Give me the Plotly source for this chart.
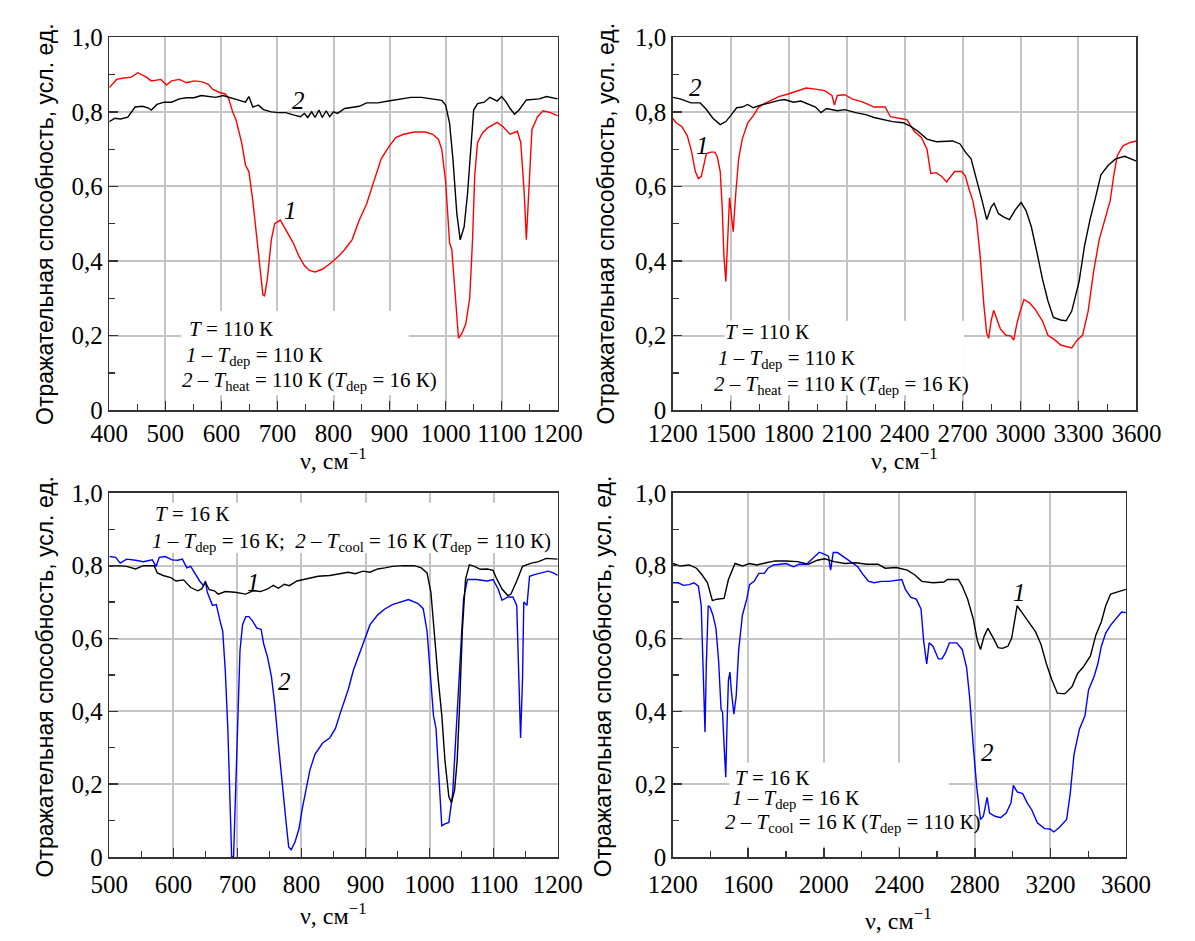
import plotly.graph_objects as go

# ---------------- DATA ----------------
# Top-left: T = 110 K, 400-1200 cm-1
tl1_nu = [400, 413, 426, 439, 451, 466, 475, 492, 502, 511, 525, 538, 551, 564, 577, 584, 597, 607, 613, 620,
          626, 636, 643, 649, 656, 662, 669, 674, 677, 682, 689, 695, 705, 715, 728, 738, 748, 757, 767, 780,
          793, 807, 820, 833, 846, 859, 872, 885, 898, 911, 925, 944, 964, 977, 987, 993, 1000, 1007, 1011, 1016,
          1023, 1029, 1036, 1043, 1048, 1052, 1057, 1066, 1075, 1092, 1102, 1115, 1128, 1134, 1140, 1144, 1149,
          1154, 1164, 1174, 1187, 1200]
tl1_R = [0.865, 0.887, 0.891, 0.893, 0.905, 0.893, 0.883, 0.887, 0.872, 0.883, 0.887, 0.878, 0.883, 0.881, 0.874,
         0.861, 0.852, 0.848, 0.835, 0.80, 0.779, 0.718, 0.657, 0.640, 0.562, 0.475, 0.371, 0.310, 0.306, 0.353,
         0.457, 0.50, 0.51, 0.484, 0.449, 0.414, 0.388, 0.375, 0.371, 0.378, 0.392, 0.41, 0.431, 0.457, 0.51,
         0.553, 0.614, 0.674, 0.705, 0.731, 0.740, 0.746, 0.746, 0.740, 0.727, 0.70, 0.614, 0.449, 0.431, 0.327,
         0.193, 0.206, 0.232, 0.301, 0.457, 0.631, 0.718, 0.744, 0.757, 0.772, 0.761, 0.740, 0.748, 0.718, 0.588,
         0.457, 0.588, 0.753, 0.787, 0.803, 0.798, 0.789]
tl2_nu = [400, 410, 420, 433, 446, 459, 469, 475, 485, 498, 511, 525, 538, 551, 564, 577, 590, 603, 616, 629,
          643, 649, 656, 666, 675, 689, 702, 715, 728, 741, 748, 754, 761, 767, 774, 780, 787, 793, 800, 807,
          820, 833, 846, 859, 879, 898, 918, 938, 957, 977, 993, 1000, 1007, 1013, 1020, 1026, 1033, 1039, 1046,
          1050, 1057, 1069, 1079, 1092, 1100, 1108, 1115, 1123, 1131, 1144, 1167, 1180, 1200]
tl2_R = [0.774, 0.783, 0.781, 0.786, 0.813, 0.815, 0.811, 0.805, 0.820, 0.826, 0.826, 0.835, 0.838, 0.838, 0.844,
         0.841, 0.839, 0.844, 0.839, 0.832, 0.826, 0.841, 0.813, 0.818, 0.806, 0.80, 0.798, 0.798, 0.792, 0.787,
         0.796, 0.785, 0.80, 0.785, 0.805, 0.785, 0.803, 0.787, 0.80, 0.796, 0.809, 0.813, 0.815, 0.824, 0.824,
         0.829, 0.835, 0.839, 0.839, 0.835, 0.831, 0.818, 0.77, 0.674, 0.527, 0.457, 0.492, 0.579, 0.718, 0.805,
         0.822, 0.826, 0.839, 0.829, 0.841, 0.826, 0.809, 0.794, 0.805, 0.832, 0.835, 0.841, 0.835]

# Top-right: T = 110 K, 1200-3600 cm-1
tr1_nu = [1200, 1219, 1247, 1276, 1298, 1317, 1333, 1348, 1361, 1374, 1399, 1418, 1431, 1446, 1456, 1465, 1475,
          1484, 1494, 1503, 1513, 1526, 1541, 1560, 1588, 1617, 1645, 1674, 1711, 1749, 1797, 1844, 1891, 1939,
          1986, 2024, 2037, 2052, 2090, 2128, 2185, 2242, 2299, 2327, 2374, 2412, 2450, 2488, 2516, 2535, 2564,
          2592, 2617, 2640, 2659, 2696, 2715, 2734, 2753, 2772, 2791, 2810, 2825, 2835, 2848, 2861, 2876, 2895,
          2924, 2952, 2965, 2981, 2999, 3018, 3047, 3075, 3113, 3142, 3179, 3208, 3236, 3265, 3293, 3321, 3350,
          3378, 3407, 3435, 3464, 3483, 3501, 3530, 3568, 3600]
tr1_R = [0.783, 0.77, 0.761, 0.735, 0.692, 0.64, 0.621, 0.627, 0.657, 0.688, 0.692, 0.692, 0.679, 0.64, 0.544,
         0.414, 0.345, 0.457, 0.57, 0.527, 0.479, 0.579, 0.674, 0.727, 0.77, 0.79, 0.813, 0.822, 0.831, 0.841,
         0.848, 0.857, 0.864, 0.861, 0.857, 0.844, 0.818, 0.844, 0.846, 0.835, 0.826, 0.813, 0.813, 0.787, 0.783,
         0.779, 0.748, 0.731, 0.70, 0.635, 0.637, 0.627, 0.612, 0.627, 0.64, 0.64, 0.627, 0.592, 0.562, 0.51,
         0.414, 0.284, 0.206, 0.193, 0.24, 0.268, 0.245, 0.219, 0.201, 0.199, 0.188, 0.232, 0.266, 0.297, 0.288,
         0.271, 0.24, 0.201, 0.188, 0.175, 0.171, 0.167, 0.188, 0.201, 0.266, 0.371, 0.457, 0.51, 0.562, 0.631,
         0.683, 0.709, 0.718, 0.722]
tr2_nu = [1200, 1238, 1295, 1342, 1370, 1408, 1446, 1475, 1503, 1531, 1560, 1588, 1617, 1655, 1702, 1749, 1778,
          1825, 1863, 1901, 1939, 1967, 1996, 2052, 2090, 2147, 2204, 2242, 2299, 2337, 2393, 2431, 2469, 2516,
          2564, 2621, 2649, 2687, 2715, 2744, 2772, 2801, 2825, 2848, 2863, 2886, 2914, 2943, 2971, 3003, 3028,
          3056, 3085, 3113, 3142, 3170, 3208, 3236, 3265, 3303, 3331, 3359, 3388, 3416, 3454, 3492, 3539, 3577, 3600]
tr2_R = [0.839, 0.835, 0.824, 0.824, 0.809, 0.783, 0.766, 0.774, 0.792, 0.811, 0.813, 0.82, 0.811, 0.818, 0.824,
         0.831, 0.833, 0.826, 0.829, 0.82, 0.813, 0.798, 0.809, 0.803, 0.806, 0.798, 0.792, 0.785, 0.779, 0.774,
         0.771, 0.761, 0.748, 0.727, 0.72, 0.72, 0.722, 0.714, 0.692, 0.674, 0.622, 0.562, 0.511, 0.545, 0.555,
         0.527, 0.518, 0.511, 0.536, 0.557, 0.536, 0.492, 0.423, 0.353, 0.293, 0.249, 0.242, 0.24, 0.266, 0.345,
         0.44, 0.51, 0.57, 0.631, 0.657, 0.674, 0.681, 0.674, 0.668]

# Bottom-left: T = 16 K, 500-1200 cm-1
bl1_nu = [500, 513, 527, 541, 553, 570, 575, 584, 596, 604, 616, 627, 638, 644, 650, 656, 664, 670, 681, 696,
          713, 724, 736, 747, 756, 764, 773, 781, 793, 804, 816, 826, 844, 861, 873, 884, 896, 907, 919, 930,
          942, 959, 976, 987, 996, 1002, 1007, 1013, 1019, 1024, 1030, 1034, 1039, 1043, 1047, 1051, 1056, 1062,
          1070, 1079, 1090, 1099, 1104, 1113, 1122, 1127, 1136, 1145, 1159, 1170, 1182, 1200]
bl1_R = [0.798, 0.80, 0.798, 0.791, 0.80, 0.80, 0.78, 0.773, 0.767, 0.758, 0.761, 0.74, 0.731, 0.736, 0.754,
         0.734, 0.731, 0.722, 0.729, 0.727, 0.722, 0.731, 0.729, 0.736, 0.746, 0.738, 0.749, 0.745, 0.758, 0.762,
         0.767, 0.771, 0.773, 0.778, 0.782, 0.778, 0.785, 0.782, 0.791, 0.794, 0.798, 0.80, 0.80, 0.794, 0.78,
         0.727, 0.62, 0.496, 0.389, 0.264, 0.166, 0.149, 0.184, 0.264, 0.424, 0.62, 0.762, 0.802, 0.798, 0.79,
         0.791, 0.787, 0.767, 0.736, 0.718, 0.722, 0.758, 0.798, 0.807, 0.811, 0.82, 0.818]
bl2_nu = [500, 510, 517, 527, 541, 553, 567, 573, 578, 587, 598, 607, 614, 621, 627, 633, 641, 647, 650, 653,
          656, 661, 667, 670, 673, 677, 681, 685, 689, 691, 694, 697, 700, 704, 708, 713, 718, 724, 730, 737,
          741, 747, 753, 758, 764, 770, 776, 780, 784, 790, 796, 801, 807, 813, 821, 833, 844, 853, 861, 873,
          881, 890, 899, 907, 919, 930, 942, 953, 967, 982, 990, 996, 1002, 1006, 1010, 1015, 1019, 1024, 1030,
          1036, 1042, 1047, 1053, 1059, 1073, 1090, 1099, 1107, 1113, 1122, 1130, 1136, 1139, 1142, 1145, 1147,
          1152, 1156, 1165, 1176, 1185, 1193, 1200]
bl2_R = [0.825, 0.823, 0.807, 0.818, 0.815, 0.811, 0.816, 0.798, 0.823, 0.825, 0.816, 0.815, 0.818, 0.794, 0.798,
         0.78, 0.758, 0.745, 0.758, 0.727, 0.714, 0.691, 0.693, 0.665, 0.647, 0.62, 0.513, 0.353, 0.131, 0.0,
         0.002, 0.175, 0.353, 0.567, 0.638, 0.66, 0.66, 0.647, 0.629, 0.625, 0.585, 0.549, 0.496, 0.424, 0.309,
         0.193, 0.095, 0.028, 0.02, 0.042, 0.077, 0.131, 0.184, 0.238, 0.282, 0.313, 0.327, 0.353, 0.398, 0.46,
         0.513, 0.558, 0.602, 0.638, 0.665, 0.681, 0.693, 0.70, 0.707, 0.696, 0.682, 0.62, 0.487, 0.389, 0.353,
         0.22, 0.086, 0.091, 0.095, 0.175, 0.353, 0.531, 0.709, 0.762, 0.762, 0.758, 0.762, 0.736, 0.705, 0.714,
         0.714, 0.691, 0.531, 0.327, 0.487, 0.70, 0.691, 0.771, 0.776, 0.78, 0.785, 0.78, 0.773]

# Bottom-right: T = 16 K, 1200-3600 cm-1
br1_nu = [1200, 1239, 1287, 1326, 1355, 1384, 1410, 1433, 1472, 1495, 1530, 1569, 1607, 1646, 1695, 1743, 1801,
          1860, 1918, 1966, 2005, 2054, 2112, 2170, 2228, 2287, 2325, 2384, 2442, 2481, 2519, 2578, 2636, 2655,
          2713, 2733, 2762, 2791, 2814, 2830, 2849, 2869, 2898, 2923, 2946, 2975, 2995, 3008, 3024, 3047, 3082,
          3121, 3150, 3179, 3208, 3237, 3276, 3315, 3344, 3373, 3412, 3441, 3470, 3493, 3519, 3567, 3600]
br1_R = [0.806, 0.799, 0.802, 0.793, 0.775, 0.753, 0.704, 0.708, 0.71, 0.762, 0.806, 0.799, 0.806, 0.802, 0.808,
         0.813, 0.813, 0.811, 0.804, 0.815, 0.819, 0.811, 0.806, 0.808, 0.804, 0.804, 0.793, 0.795, 0.788, 0.775,
         0.757, 0.753, 0.755, 0.762, 0.762, 0.744, 0.708, 0.655, 0.593, 0.57, 0.606, 0.628, 0.601, 0.575, 0.573,
         0.579, 0.601, 0.646, 0.69, 0.673, 0.646, 0.619, 0.584, 0.53, 0.486, 0.45, 0.448, 0.468, 0.504, 0.521,
         0.552, 0.61, 0.646, 0.69, 0.722, 0.73, 0.735]
br2_nu = [1200, 1229, 1258, 1287, 1313, 1336, 1351, 1359, 1367, 1371, 1378, 1388, 1398, 1413, 1429, 1443, 1456,
          1464, 1472, 1481, 1487, 1495, 1503, 1510, 1524, 1536, 1549, 1569, 1592, 1607, 1631, 1656, 1685, 1704,
          1734, 1763, 1801, 1840, 1869, 1908, 1937, 1976, 2005, 2025, 2036, 2050, 2073, 2112, 2151, 2180, 2209,
          2238, 2267, 2306, 2345, 2384, 2413, 2432, 2461, 2490, 2515, 2529, 2545, 2558, 2578, 2607, 2626, 2645,
          2665, 2704, 2733, 2756, 2772, 2791, 2810, 2830, 2845, 2865, 2878, 2907, 2936, 2966, 2991, 3004, 3024,
          3053, 3078, 3101, 3131, 3169, 3198, 3218, 3247, 3286, 3305, 3325, 3354, 3383, 3402, 3431, 3451, 3470,
          3493, 3519, 3548, 3577, 3600]
br2_R = [0.753, 0.753, 0.746, 0.748, 0.753, 0.744, 0.69, 0.53, 0.37, 0.343, 0.53, 0.69, 0.686, 0.664, 0.628,
         0.539, 0.406, 0.397, 0.308, 0.219, 0.352, 0.486, 0.508, 0.459, 0.392, 0.441, 0.566, 0.664, 0.708, 0.748,
         0.757, 0.779, 0.779, 0.793, 0.802, 0.804, 0.806, 0.797, 0.804, 0.804, 0.819, 0.837, 0.831, 0.826, 0.788,
         0.836, 0.836, 0.822, 0.806, 0.797, 0.775, 0.757, 0.753, 0.757, 0.757, 0.76, 0.762, 0.735, 0.713, 0.708,
         0.681, 0.593, 0.53, 0.588, 0.579, 0.544, 0.544, 0.561, 0.588, 0.588, 0.57, 0.521, 0.441, 0.308, 0.192,
         0.103, 0.112, 0.164, 0.121, 0.112, 0.108, 0.121, 0.148, 0.197, 0.179, 0.174, 0.148, 0.13, 0.094, 0.078,
         0.077, 0.069, 0.081, 0.103, 0.174, 0.281, 0.352, 0.388, 0.459, 0.495, 0.53, 0.579, 0.615, 0.637, 0.655,
         0.673, 0.671]

y_tickvals = [0, 0.2, 0.4, 0.6, 0.8, 1.0]
y_ticktext = ["0", "0,2", "0,4", "0,6", "0,8", "1,0"]
y_title = "Отражательная способность, усл. ед."
x_title = "ν, см<sup>−1</sup>"

# ---------------- LAYOUT HELPERS ----------------
# the figure fills the whole 1195x941 page (body margin removed by post_script)
W, H = 1195, 941
def px(x):
    return x / W
def py(y):
    return 1 - y / H

SERIF = "Liberation Serif, Times New Roman, serif"
SANS = "Liberation Sans, Arial, sans-serif"
AX = "#333333"
GRID = "#c4c4c4"
RED = "#ff0000"
BLUE = "#0000ff"
BLACK = "#000000"

fig = go.Figure()

panels = [
    # axis suffix, x domain px, y domain px, x range, dtick, minor dtick, x-label standoff
    ("", (88, 556), (25, 409), (400, 1200), 100, 50, 0),
    ("2", (676, 1160), (25, 409), (1200, 3600), 300, 150, 0),
    ("3", (88, 556), (494, 869), (500, 1200), 100, 50, 4),
    ("4", (676, 1149), (494, 869), (1200, 3600), 400, 200, 4),
]

series = [
    ("", tl1_nu, tl1_R, RED), ("", tl2_nu, tl2_R, BLACK),
    ("2", tr1_nu, tr1_R, RED), ("2", tr2_nu, tr2_R, BLACK),
    ("3", bl2_nu, bl2_R, BLUE), ("3", bl1_nu, bl1_R, BLACK),
    ("4", br2_nu, br2_R, BLUE), ("4", br1_nu, br1_R, BLACK),
]
for sfx, xs, ys, col in series:
    fig.add_trace(go.Scatter(x=xs, y=ys, mode="lines", xaxis="x" + sfx, yaxis="y" + sfx,
                             line=dict(color=col, width=1.4), showlegend=False, hoverinfo="skip"))

layout = dict(width=W, height=H, margin=dict(l=0, r=0, t=0, b=0),
              paper_bgcolor="white", plot_bgcolor="white", showlegend=False)
for sfx, (x0, x1), (y0, y1), xr, dt, mdt, sto in panels:
    layout["xaxis" + sfx] = dict(
        domain=[px(x0), px(x1)], anchor="y" + sfx, range=list(xr), tick0=xr[0], dtick=dt,
        tickformat="d", ticks="inside", ticklen=9, tickwidth=1.5, tickcolor=AX, ticklabelstandoff=sto,
        showgrid=True, gridcolor=GRID, gridwidth=2, showline=True, linecolor=AX, linewidth=1.5,
        mirror=True, zeroline=False, fixedrange=True,
        tickfont=dict(family=SERIF, size=25, color="black"),
        minor=dict(ticks="inside", ticklen=6, tickwidth=1.2, tickcolor=AX, dtick=mdt, showgrid=False),
    )
    layout["yaxis" + sfx] = dict(
        domain=[py(y1), py(y0)], anchor="x" + sfx, range=[0, 1],
        tickvals=y_tickvals, ticktext=y_ticktext,
        ticks="inside", ticklen=9, tickwidth=1.5, tickcolor=AX,
        showgrid=True, gridcolor=GRID, gridwidth=2, showline=True, linecolor=AX, linewidth=1.5,
        mirror=True, zeroline=False, fixedrange=True,
        tickfont=dict(family=SERIF, size=25, color="black"),
        minor=dict(ticks="inside", ticklen=6, tickwidth=1.2, tickcolor=AX, dtick=0.1, showgrid=False),
    )
fig.update_layout(**layout)

# white boxes behind the legends (cover grid lines, below traces)
boxes = [
    ("", 528, 934, 0.04, 0.266),
    ("2", 1468, 2707, 0.04, 0.24),
    ("3", 500, 1200, 0.835, 0.973),
    ("4", 1500, 2662, 0.03, 0.259),
]
for sfx, xa, xb, ya, yb in boxes:
    fig.add_shape(type="rect", xref="x" + sfx, yref="y" + sfx, x0=xa, x1=xb, y0=ya, y1=yb,
                  fillcolor="white", line=dict(width=0), layer="between")

ann = []
# axis titles
for xc, yc in [(21, 217), (606, 217), (21, 683), (604, 683)]:
    ann.append(dict(text=y_title, x=px(xc), y=py(yc), xref="paper", yref="paper", showarrow=False,
                    textangle=-90, font=dict(family=SANS, size=23, color="black"),
                    xanchor="center", yanchor="middle"))
for xc, yc in [(322, 459), (918, 459), (322, 928), (912, 933)]:
    ann.append(dict(text=x_title, x=px(xc), y=py(yc), xref="paper", yref="paper", showarrow=False,
                    font=dict(family=SERIF, size=24, color="black"), xanchor="center", yanchor="middle"))

# legend texts
legend_lines = [
    (170, 312, "<i>T</i> = 110 К"),
    (167, 339, "<i>1</i> – <i>T</i><sub>dep</sub> = 110 К"),
    (163, 364, "<i>2</i> – <i>T</i><sub>heat</sub> = 110 К (<i>T</i><sub>dep</sub> = 16 К)"),
    (730, 315, "<i>T</i> = 110 К"),
    (722, 342, "<i>1</i> – <i>T</i><sub>dep</sub> = 110 К"),
    (718, 369, "<i>2</i> – <i>T</i><sub>heat</sub> = 110 К (<i>T</i><sub>dep</sub> = 16 К)"),
    (135, 502, "<i>T</i> = 16 К"),
    (132, 530, "<i>1</i> – <i>T</i><sub>dep</sub> = 16 К;  <i>2</i> – <i>T</i><sub>cool</sub> = 16 К (<i>T</i><sub>dep</sub> = 110 К)"),
    (740, 774, "<i>T</i> = 16 К"),
    (737, 795, "<i>1</i> – <i>T</i><sub>dep</sub> = 16 К"),
    (730, 819, "<i>2</i> – <i>T</i><sub>cool</sub> = 16 К (<i>T</i><sub>dep</sub> = 110 К)"),
]
for xl, yt, txt in legend_lines:
    ann.append(dict(text=txt, x=px(xl), y=py(yt), xref="paper", yref="paper", showarrow=False,
                    font=dict(family=SERIF, size=21, color="black"), xanchor="left", yanchor="top",
                    borderpad=0))

# curve numbers
curve_labels = [
    ("", 738, 0.83, "2"), ("", 723, 0.535, "1"),
    ("2", 1317, 0.865, "2"), ("2", 1352, 0.709, "1"),
    ("3", 725, 0.754, "1"), ("3", 773, 0.482, "2"),
    ("4", 3039, 0.726, "1"), ("4", 2869, 0.286, "2"),
]
for sfx, xv, yv, t in curve_labels:
    ann.append(dict(text="<i>" + t + "</i>", x=xv, y=yv, xref="x" + sfx, yref="y" + sfx, showarrow=False,
                    font=dict(family=SERIF, size=25, color="black"), xanchor="center", yanchor="middle"))

fig.update_layout(annotations=ann)
fig.write_html("out.html", config={"displayModeBar": False, "staticPlot": True},
               post_script="document.body.style.margin='0';document.body.style.overflow='hidden';")
